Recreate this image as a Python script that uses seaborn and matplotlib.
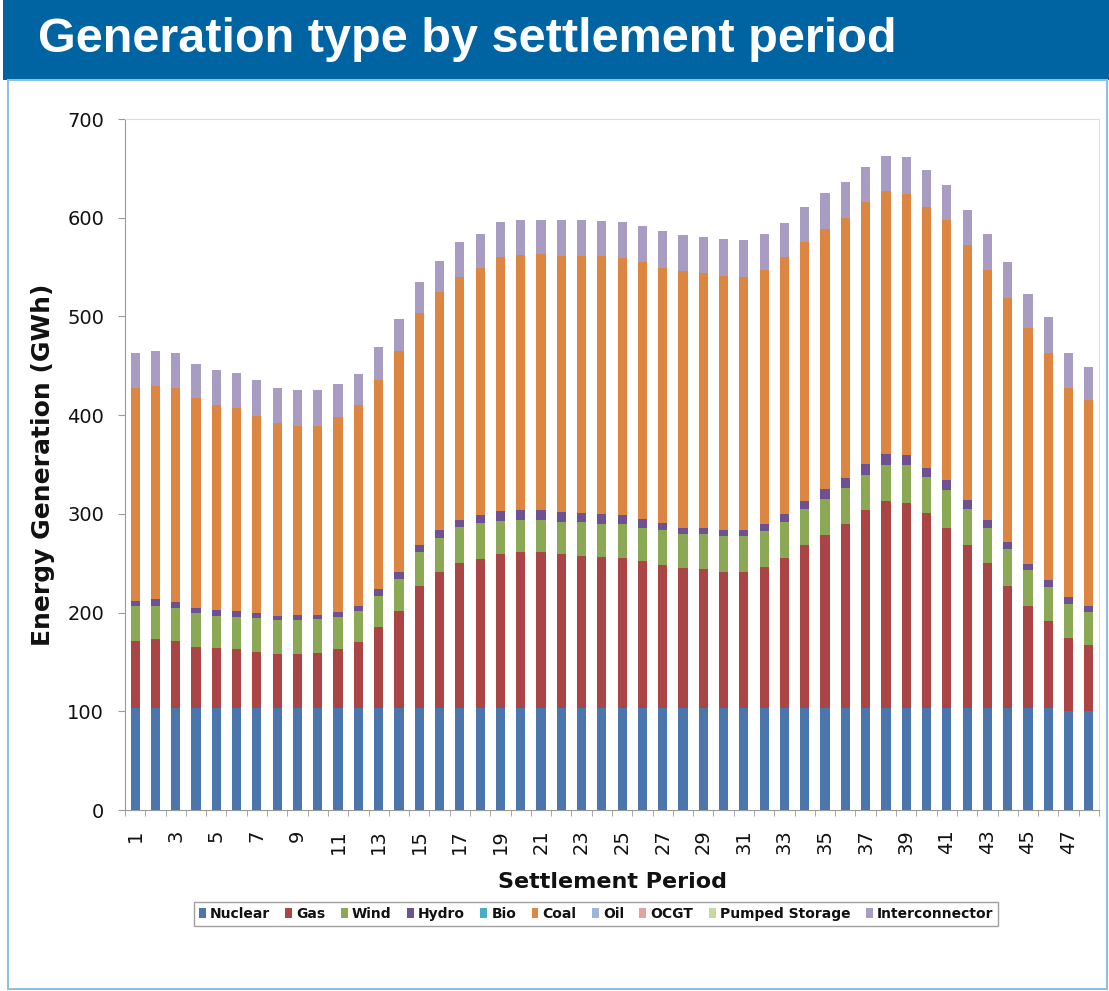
import numpy as np
import pandas as pd
import seaborn as sns
import matplotlib
matplotlib.use("Agg")
import matplotlib.pyplot as plt
from matplotlib.patches import Patch, Rectangle

# data (GWh per settlement period)
periods = list(range(1, 49))
nuclear = [103] * 46 + [100, 100]
gas = [68, 70, 68, 62, 61, 60, 57, 55, 55, 56, 60, 67, 82, 99, 124, 138,
       147, 151, 156, 158, 158, 156, 154, 153, 152, 149, 145, 142, 141, 138, 138, 143,
       152, 165, 176, 187, 201, 210, 208, 198, 183, 165, 147, 124, 104, 88, 74, 67]
wind = [36, 34, 34, 35, 33, 33, 34, 34, 34, 34, 33, 32, 32, 32, 34, 35,
        37, 37, 34, 33, 33, 33, 35, 34, 35, 34, 36, 35, 36, 37, 37, 37,
        37, 37, 36, 36, 35, 37, 38, 36, 38, 37, 36, 37, 36, 35, 35, 34]
hydro = [5, 7, 6, 5, 6, 6, 6, 5, 6, 5, 5, 5, 7, 7, 7, 8,
         7, 8, 10, 10, 10, 10, 9, 10, 9, 9, 7, 6, 6, 6, 6, 7,
         8, 8, 10, 10, 12, 11, 11, 9, 10, 9, 8, 7, 6, 7, 7, 6]
bio = [0] * 48
coal = [216, 216, 216, 212, 207, 205, 199, 195, 191, 191, 197, 203, 212, 224, 235, 241,
        246, 250, 257, 258, 259, 259, 260, 261, 260, 260, 258, 260, 258, 257, 256, 257,
        260, 262, 264, 264, 265, 266, 264, 265, 264, 258, 253, 248, 239, 230, 212, 208]
oil = [0] * 48
ocgt = [0] * 48
pumped = [0] * 48
interconnector = [35, 35, 36, 35, 36, 36, 37, 36, 36, 36, 34, 32, 33, 32, 32, 31,
                  35, 35, 36, 36, 35, 37, 37, 36, 37, 37, 38, 36, 36, 37, 37, 37,
                  35, 36, 36, 36, 35, 36, 37, 37, 35, 36, 37, 36, 35, 36, 35, 34]

types = ["Nuclear", "Gas", "Wind", "Hydro", "Bio", "Coal", "Oil", "OCGT",
         "Pumped Storage", "Interconnector"]
series = [nuclear, gas, wind, hydro, bio, coal, oil, ocgt, pumped, interconnector]
colors = ["#4A76AD", "#AA4445", "#8BA854", "#6E5193", "#4BACC6", "#DD8641",
          "#9DB4DC", "#E3A2A0", "#C4DBA0", "#A99CC2"]
palette = dict(zip(types, colors))

df = pd.DataFrame({
    "period": np.tile(periods, len(types)),
    "type": np.repeat(types, len(periods)),
    "gwh": np.concatenate(series),
})

sns.set_style("white")
plt.rcParams["font.family"] = ["DejaVu Sans"]
plt.rcParams["text.color"] = "#111111"
plt.rcParams["axes.labelcolor"] = "#111111"
plt.rcParams["xtick.color"] = "#111111"
plt.rcParams["ytick.color"] = "#111111"

fig = plt.figure(figsize=(11.09, 9.91), dpi=100)
ax = fig.add_axes([125 / 1109, 1 - 810 / 991, 974 / 1109, 691 / 991])

# seaborn stacks the first hue level on top, so feed the order reversed
sns.histplot(data=df, x="period", weights="gwh", hue="type",
             hue_order=types[::-1], palette=palette, multiple="stack",
             discrete=True, shrink=0.45, alpha=1, linewidth=0,
             legend=False, ax=ax)

ax.set_xlim(0.5, 48.5)
ax.set_ylim(0, 700)
ax.set_yticks(range(0, 701, 100))
ax.tick_params(axis="y", labelsize=14, length=5, color="#999999", pad=10)
ax.set_xticks(periods[::2])
ax.set_xticklabels([str(p) for p in periods[::2]], rotation=90)
ax.set_xticks(np.arange(0.5, 49, 1), minor=True)
ax.tick_params(axis="x", which="major", length=0, labelsize=14, pad=14)
ax.tick_params(axis="x", which="minor", length=4, color="#999999")
ax.tick_params(left=True, bottom=True, which="both")

for side in ["left", "bottom"]:
    ax.spines[side].set_color("#999999")
for side in ["top", "right"]:
    ax.spines[side].set_color("#dddddd")

ax.set_xlabel("Settlement Period", fontsize=16, fontweight="bold", labelpad=13)
ax.set_ylabel("Energy Generation (GWh)", fontsize=18, fontweight="bold", labelpad=9)

# legend under the axis
handles = [Patch(facecolor=palette[t], edgecolor="none") for t in types]
fig.legend(handles, types, loc="center", bbox_to_anchor=(596 / 1109, 1 - 914 / 991),
           ncol=10, handlelength=0.5, handleheight=0.7,
           handletextpad=0.3, columnspacing=1.1, frameon=True, fancybox=False,
           edgecolor="#888888", borderpad=0.35, prop={"weight": "bold", "size": 10})

# title band and frame
fig.patches.append(Rectangle((3 / 1109, 1 - 80 / 991), 1106 / 1109, 80 / 991,
                             transform=fig.transFigure, facecolor="#0064A3",
                             edgecolor="none", zorder=0))
fig.patches.append(Rectangle((8 / 1109, 2 / 991), 1099 / 1109, 1 - 82 / 991,
                             transform=fig.transFigure, facecolor="none",
                             edgecolor="#8FC0E2", linewidth=1.5, zorder=0))
fig.text(38 / 1109, 1 - 40 / 991, "Generation type by settlement period",
         color="white", fontsize=35, fontweight="bold", va="center", ha="left",
         family=["Liberation Sans Narrow", "Liberation Sans", "DejaVu Sans"])

plt.savefig("out.png", dpi=100)
